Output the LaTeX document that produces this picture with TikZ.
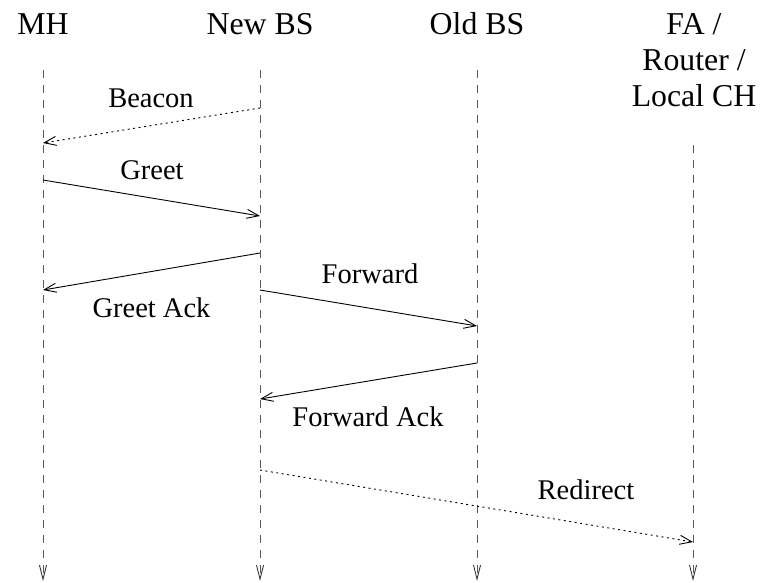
\documentclass[tikz,border=0pt]{standalone}
\usepackage{fontspec}
\setmainfont{Liberation Serif}
\usetikzlibrary{arrows.meta}
\begin{document}
\begin{tikzpicture}[x=1pt,y=-1pt,
  head/.style={font=\fontsize{31.8}{36}\selectfont, align=center, inner sep=0pt, anchor=base},
  lbl/.style={font=\fontsize{28.5}{34}\selectfont, inner sep=0pt, anchor=base},
  life/.style={draw=black!65, line width=0.9pt, dash pattern=on 8pt off 7pt,
    -{Straight Barb[length=14pt,width=7pt,line width=0.9pt,black!80]}},
  msg/.style={draw=black, line width=0.9pt,
    -{Straight Barb[length=12pt,width=9pt,line width=0.9pt]}},
  dmsg/.style={msg, dash pattern=on 2pt off 3.5pt}]
\useasboundingbox (0,0) rectangle (763,582);
% headers
\node[head] (mh) at (43,34) {MH};
\node[head] (nbs) at (260,34) {New BS};
\node[head] (obs) at (477,34) {Old BS};
\node[head] (fa1) at (694,34) {FA /};
\node[head] (fa2) at (694,70) {Router /};
\node[head] (fa3) at (694,106) {Local CH};
% lifelines
\coordinate (mhT) at (43,70);   \coordinate (mhB) at (43,581);
\coordinate (nbT) at (260,70);  \coordinate (nbB) at (260,581);
\coordinate (obT) at (477,70);  \coordinate (obB) at (477,581);
\coordinate (faT) at (693,145); \coordinate (faB) at (693,581);
\draw[life] (mhT) -- (mhB);
\draw[life] (nbT) -- (nbB);
\draw[life] (obT) -- (obB);
\draw[life] (faT) -- (faB);
% message endpoints
\coordinate (b1) at (260,108); \coordinate (b2) at (43,143);
\coordinate (g1) at (43,180);  \coordinate (g2) at (260,216);
\coordinate (ga1) at (260,253); \coordinate (ga2) at (43,290);
\coordinate (f1) at (260,290); \coordinate (f2) at (477,326);
\coordinate (fa1c) at (477,363); \coordinate (fa2c) at (260,399);
\coordinate (r1) at (260,470); \coordinate (r2) at (693,542);
\draw[dmsg] (b1) -- (b2);
\draw[msg] (g1) -- (g2);
\draw[msg] (ga1) -- (ga2);
\draw[msg] (f1) -- (f2);
\draw[msg] (fa1c) -- (fa2c);
\draw[dmsg] (r1) -- (r2);
% labels
\node[lbl] (lb) at (151,107) {Beacon};
\node[lbl] (lg) at (152,179) {Greet};
\node[lbl] (lga) at (151.5,317) {Greet Ack};
\node[lbl] (lf) at (370,283) {Forward};
\node[lbl] (lfa) at (368,426) {Forward Ack};
\node[lbl] (lr) at (586,499) {Redirect};
\end{tikzpicture}
\end{document}
